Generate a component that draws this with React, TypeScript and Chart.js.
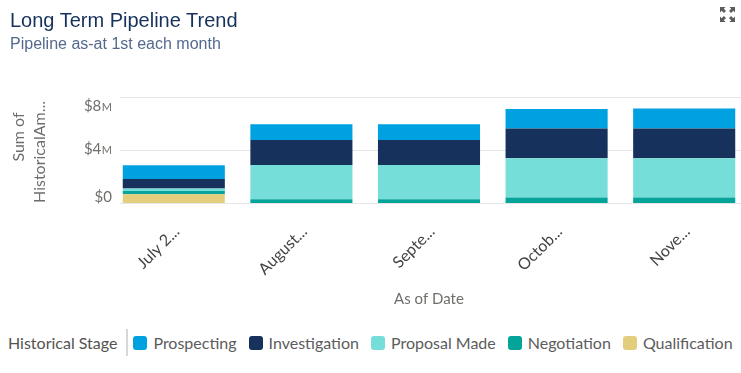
import React, { useEffect, useRef } from "react";
import { Chart, registerables } from "chart.js";

Chart.register(...registerables);

// Values in $ millions
const categories = ["July 2...", "August...", "Septe...", "Octob...", "Nove..."];
const prospecting = [1.02, 1.19, 1.19, 1.47, 1.52];
const investigation = [0.73, 1.9, 1.9, 2.25, 2.25];
const proposalMade = [0.18, 2.58, 2.58, 2.96, 2.96];
const negotiation = [0.25, 0.28, 0.28, 0.41, 0.41];
const qualification = [0.66, 0, 0, 0, 0];
const yTicks = [0, 4, 8];
const yTickLabels = [["$0", ""], ["$4", "M"], ["$8", "M"]];

const COLORS = {
  Prospecting: "#00a1e0",
  Investigation: "#16325c",
  "Proposal Made": "#76ded9",
  Negotiation: "#04a49a",
  Qualification: "#e2ce7d",
};

const legendOrder = ["Prospecting", "Investigation", "Proposal Made", "Negotiation", "Qualification"];

const FONT = "Lato, 'Noto Sans', sans-serif";

const customPlugin = {
  id: "customGridAndTitle",
  beforeDatasetsDraw(chart: any) {
    const { ctx, scales, chartArea } = chart;
    const y = scales.y;
    const x = scales.x;
    ctx.save();
    // gridlines
    ctx.strokeStyle = "#e6e6e6";
    ctx.lineWidth = 1;
    yTicks.forEach((t) => {
      const py = Math.round(y.getPixelForValue(t)) + 0.5;
      ctx.beginPath();
      ctx.moveTo(120, py);
      ctx.lineTo(chart.width, py);
      ctx.stroke();
    });
    // y tick labels (clamped inside the plot band)
    ctx.fillStyle = "#706e6b";
    ctx.textBaseline = "middle";
    ctx.textAlign = "left";
    const last = yTicks.length - 1;
    yTicks.forEach((t, i) => {
      let py = y.getPixelForValue(t);
      if (i === last) py += 9;
      else if (i === 0) py -= 5.5;
      else py -= 1;
      const [main, small] = yTickLabels[i];
      ctx.font = "15px " + FONT;
      const w1 = ctx.measureText(main).width;
      ctx.font = "11px " + FONT;
      const w2 = small ? ctx.measureText(small).width + 0.5 : 0;
      const right = 112;
      const start = right - w1 - w2;
      ctx.font = "15px " + FONT;
      ctx.fillText(main, start, py);
      if (small) {
        ctx.font = "11px " + FONT;
        ctx.fillText(small, start + w1 + 0.5, py + 1);
      }
    });
    // x tick labels
    ctx.fillStyle = "#444444";
    ctx.font = "16px " + FONT;
    ctx.textAlign = "right";
    ctx.textBaseline = "middle";
    categories.forEach((c, i) => {
      const px = x.getPixelForValue(i);
      ctx.save();
      ctx.translate(px + 3, chartArea.bottom + 26);
      ctx.rotate(-Math.PI / 4);
      ctx.fillText(c, 0, 0);
      ctx.restore();
    });
    // y title
    ctx.fillStyle = "#706e6b";
    ctx.font = "16px " + FONT;
    ctx.textAlign = "center";
    ctx.textBaseline = "middle";
    ctx.save();
    ctx.translate(19, 137);
    ctx.rotate(-Math.PI / 2);
    ctx.fillText("Sum of", 0, 0);
    ctx.restore();
    ctx.save();
    ctx.translate(40, 152);
    ctx.rotate(-Math.PI / 2);
    ctx.fillText("HistoricalAm...", 0, 0);
    ctx.restore();
    ctx.restore();
  },
};

function ExpandIcon() {
  return (
    <svg width="15" height="15" viewBox="0 0 15 15" style={{ position: "absolute", left: 720, top: 7 }}>
      <g fill="#5c5c5c">
        <path d="M0 0 L5.5 0 L3.8 1.7 L6 3.9 L3.9 6 L1.7 3.8 L0 5.5 Z" />
        <path d="M15 0 L9.5 0 L11.2 1.7 L9 3.9 L11.1 6 L13.3 3.8 L15 5.5 Z" />
        <path d="M0 15 L5.5 15 L3.8 13.3 L6 11.1 L3.9 9 L1.7 11.2 L0 9.5 Z" />
        <path d="M15 15 L9.5 15 L11.2 13.3 L9 11.1 L11.1 9 L13.3 11.2 L15 9.5 Z" />
      </g>
    </svg>
  );
}

export default function App() {
  const canvasRef = useRef<HTMLCanvasElement | null>(null);

  useEffect(() => {
    if (!canvasRef.current) return;
    const mk = (label: string, data: number[]) => ({
      label,
      data,
      backgroundColor: (COLORS as any)[label],
      borderWidth: 0,
      barPercentage: 0.8,
      categoryPercentage: 1.0,
    });
    const chart = new Chart(canvasRef.current, {
      type: "bar",
      data: {
        labels: categories,
        datasets: [
          mk("Qualification", qualification),
          mk("Negotiation", negotiation),
          mk("Proposal Made", proposalMade),
          mk("Investigation", investigation),
          mk("Prospecting", prospecting),
        ],
      },
      options: {
        animation: false,
        responsive: false,
        maintainAspectRatio: false,
        layout: { padding: { left: 0, right: 12, top: 97, bottom: 0 } },
        plugins: {
          legend: { display: false },
          tooltip: { enabled: false },
        },
        scales: {
          x: {
            stacked: true,
            grid: { display: false, drawTicks: false },
            border: { display: false },
            ticks: { display: false },
            title: {
              display: true,
              text: "As of Date",
              color: "#706e6b",
              font: { family: FONT, size: 15 },
              padding: { top: 4, bottom: 12 },
            },
            afterFit: (s: any) => {
              s.height = 117;
            },
          },
          y: {
            stacked: true,
            min: 0,
            max: 8,
            afterBuildTicks: (s: any) => {
              s.ticks = yTicks.map((v) => ({ value: v }));
            },
            grid: { display: false, drawTicks: false },
            border: { display: false },
            ticks: { display: false },
            afterFit: (s: any) => {
              s.width = 110;
            },
          },
        },
      },
      plugins: [customPlugin],
    });
    return () => chart.destroy();
  }, []);

  return (
    <div
      style={{
        position: "absolute",
        left: 0,
        top: 0,
        width: 741,
        height: 373,
        overflow: "hidden",
        background: "#fff",
      }}
    >
      <canvas ref={canvasRef} width={760} height={320} style={{ position: "absolute", left: 0, top: 0 }} />
      <div
        style={{
          position: "absolute",
          left: 10,
          top: 10,
          fontFamily: "'Liberation Sans', Arial, sans-serif",
          fontSize: 20,
          lineHeight: 1,
          color: "#16325c",
          whiteSpace: "nowrap",
        }}
      >
        Long Term Pipeline Trend
      </div>
      <div
        style={{
          position: "absolute",
          left: 10,
          top: 36,
          fontFamily: "'Liberation Sans', Arial, sans-serif",
          fontSize: 16,
          lineHeight: 1,
          color: "#54698d",
          whiteSpace: "nowrap",
        }}
      >
        Pipeline as-at 1st each month
      </div>
      <ExpandIcon />
      <div
        style={{
          position: "absolute",
          left: 8,
          top: 329,
          height: 27,
          display: "flex",
          alignItems: "center",
          fontFamily: FONT,
          fontSize: 16,
          color: "#5c5c5c",
          whiteSpace: "nowrap",
        }}
      >
        <span style={{ fontSize: 16, color: "#54524f" }}>Historical Stage</span>
        <span
          style={{
            display: "inline-block",
            width: 2,
            height: 27,
            background: "#d8d8d8",
            marginLeft: 9,
            marginRight: 5,
          }}
        />
        {legendOrder.map((name) => (
          <span key={name} style={{ display: "inline-flex", alignItems: "center", marginRight: 12 }}>
            <span
              style={{
                display: "inline-block",
                width: 14,
                height: 14,
                borderRadius: 3,
                background: (COLORS as any)[name],
                marginRight: 6,
              }}
            />
            {name}
          </span>
        ))}
      </div>
    </div>
  );
}
